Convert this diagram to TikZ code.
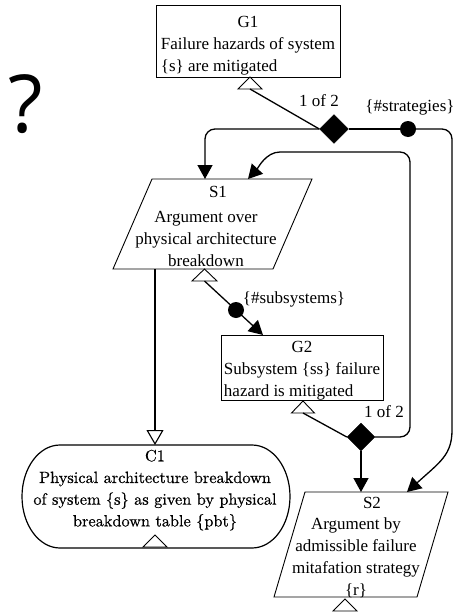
\documentclass[tikz,border=0pt]{standalone}
\usepackage{fontspec}
\newfontfamily\tnr{Liberation Serif}
\newfontfamily\qfont{Open Sans}
\newfontfamily\cfont{lmroman10-regular.otf}[FakeBold=0.6]
\usetikzlibrary{arrows.meta,shapes.geometric}
\begin{document}
\begin{tikzpicture}[x=1pt,y=-1pt,
  txt/.style={font=\tnr\fontsize{17}{22}\selectfont, inner sep=0pt},
  ctxt/.style={font=\cfont\fontsize{16.3}{21.7}\selectfont, inner sep=0pt},
  box/.style={draw, line width=0.9pt},
  wire/.style={line width=1.3pt},
  link/.style={line width=1.3pt, -{Triangle[width=15pt,length=14pt]}},
  ctxlink/.style={line width=1.3pt, -{Triangle[open,width=17pt,length=15pt,line width=1.1pt]}},
  choice/.style={diamond, fill=black, draw=black, minimum size=29pt, inner sep=0pt},
  multi/.style={circle, fill=black, minimum size=16pt, inner sep=0pt},
  ctxmark/.style={draw, line width=0.9pt, fill=white}]
\useasboundingbox (0,0) rectangle (465,613);

% question mark
\node[font=\qfont\fontsize{80}{80}\selectfont, inner sep=0pt] (q) at (26,104) {?};

% goal G1
\node[box, minimum width=184pt, minimum height=72pt, inner sep=0pt] (G1) at (248,41) {};
\node[txt] (G1t) at (248,45) {\begin{tabular}{@{}l@{}}\multicolumn{1}{@{}c@{}}{G1}\\Failure hazards of system\\\{s\} are mitigated\end{tabular}};
\draw[ctxmark] (238,89) -- (250,77) -- (262,89) -- cycle;
\coordinate (G1b) at (250,89);

% choice after G1
\node[choice] (D1) at (334,129) {};
\node[multi] (M1) at (408,129) {};
\node[txt] (L1) at (319,101) {1 of 2};
\node[txt] (L2) at (410,107) {\{\#strategies\}};

% strategy S1
\draw[box] (152,179) -- (312,179) -- (273,269) -- (113,269) -- cycle;
\node[txt] (S1t) at (218,192) {S1};
\node[txt] (S1) at (206,240) {\begin{tabular}{@{}c@{}}Argument over\\physical architecture\\breakdown\end{tabular}};
\draw[ctxmark] (192,281) -- (204.5,269) -- (217,281) -- cycle;
\coordinate (S1b) at (204.5,281);
\coordinate (S1in1) at (205,179);
\coordinate (S1in2) at (248,179);
\coordinate (S1out) at (155,269);

% goal G2
\node[box, minimum width=162pt, minimum height=65pt, inner sep=0pt] (G2) at (302,367.5) {};
\node[txt] (G2t) at (302,370) {\begin{tabular}{@{}l@{}}\multicolumn{1}{@{}c@{}}{G2}\\Subsystem \{ss\} failure\\hazard is mitigated\end{tabular}};
\draw[ctxmark] (291.5,413) -- (303,401) -- (314.5,413) -- cycle;
\coordinate (G2b) at (303,413);
\coordinate (G2in) at (263,335);
\node[multi] (M2) at (236,310) {};
\node[txt] (L3) at (294,299) {\{\#subsystems\}};

% choice after G2
\node[choice, minimum size=28pt] (D2) at (361,437) {};
\node[txt] (L4) at (384,412) {1 of 2};

% strategy S2
\draw[box] (305,492) -- (448,492) -- (417,597) -- (274,597) -- cycle;
\node[txt] (S2t) at (372,503) {S2};
\node[txt] (S2) at (356,558.5) {\begin{tabular}{@{}c@{}}Argument by\\admissible failure\\mitafation strategy\\\{r\}\end{tabular}};
\draw[ctxmark] (333,611) -- (345,599) -- (357,611) -- cycle;
\coordinate (S2in1) at (361,492);
\coordinate (S2in2) at (407,492);

% context C1
\draw[draw, line width=1.2pt] (60,445) -- (252,445) arc[start angle=90,end angle=-90,x radius=38pt,y radius=51.5pt]
  -- (60,548) arc[start angle=270,end angle=90,x radius=38pt,y radius=51.5pt] -- cycle;
\node[ctxt] (C1) at (155,489.5) {\begin{tabular}{@{}c@{}}C1\\Physical architecture breakdown\\of system \{s\} as given by physical\\breakdown table \{pbt\}\end{tabular}};
\draw[ctxmark] (143,547) -- (155,535) -- (167,547) -- cycle;
\coordinate (C1in) at (155,445);

% connectors
\draw[wire] (G1b) -- (D1.west);
\draw[wire] (D1.east) -- (M1);
\draw[link] (D1.west) -- (215,129) to[out=180,in=90] (S1in1 |- 139,139) -- (S1in1);
\draw[link] (M1) -- (442,129) to[out=0,in=90] (452,139) -- (452,430)
  .. controls (452,455) and (440,462) .. (S2in2);
\draw[link] (D2.east) -- (400,437) to[out=0,in=-90] (410,427) -- (410,162)
  to[out=90,in=0] (400,152) -- (280,152) .. controls (266,152) and (258,168) .. (S1in2);
\draw[link] (S1b) -- (G2in);
\draw[wire] (G2b) -- (D2.west);
\draw[link] (D2.south) -- (S2in1);
\draw[ctxlink] (S1out) -- (C1in);
\end{tikzpicture}
\end{document}
